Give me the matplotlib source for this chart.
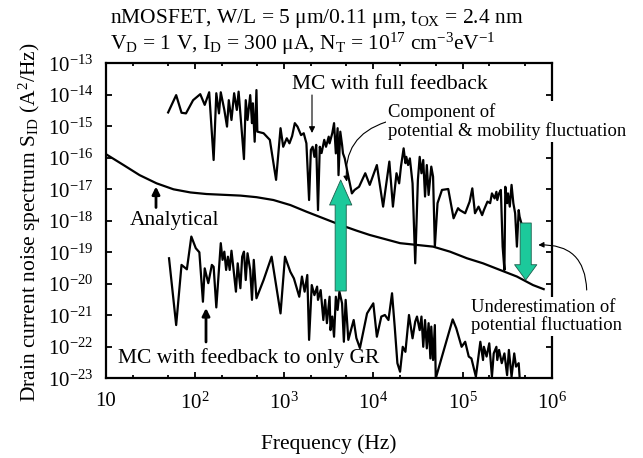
import numpy as np
import matplotlib
matplotlib.use("Agg")
import matplotlib.pyplot as plt
from matplotlib.ticker import FixedLocator, FixedFormatter, NullFormatter

plt.rcParams['font.family'] = ['Liberation Serif', 'DejaVu Serif']
plt.rcParams['mathtext.fontset'] = 'custom'
plt.rcParams['mathtext.rm'] = 'Liberation Serif'
plt.rcParams['mathtext.it'] = 'Liberation Serif:italic'
plt.rcParams['mathtext.bf'] = 'Liberation Serif:bold'

# ---- data (log10 of frequency in Hz, log10 of S_ID in A^2/Hz) ----
full_logf = [1.70, 1.79, 1.85, 1.90, 1.98, 2.06, 2.11, 2.16, 2.21, 2.24, 2.27, 2.29, 2.33, 2.36,
             2.38, 2.41, 2.44, 2.47, 2.49, 2.52, 2.55, 2.57, 2.59, 2.62, 2.64, 2.65, 2.67, 2.69,
             2.70, 2.77, 2.84, 2.91, 2.96, 2.99, 3.03, 3.06, 3.09, 3.12, 3.15, 3.19, 3.22, 3.25,
             3.28, 3.30, 3.32, 3.34, 3.36, 3.38, 3.40, 3.42, 3.45, 3.47, 3.50, 3.51, 3.54, 3.56,
             3.58, 3.60, 3.61, 3.63, 3.65, 3.66, 3.68, 3.71, 3.76, 3.79, 3.84, 3.91, 3.96, 4.04,
             4.11, 4.18, 4.22, 4.26, 4.29, 4.31, 4.34, 4.36, 4.37, 4.39, 4.41, 4.44, 4.47, 4.50,
             4.52, 4.54, 4.56, 4.58, 4.60, 4.62, 4.65, 4.67, 4.69, 4.72, 4.77, 4.84, 4.90, 4.95,
             4.97, 5.03, 5.08, 5.11, 5.14, 5.18, 5.22, 5.24, 5.28, 5.31, 5.33, 5.36, 5.38, 5.39,
             5.41, 5.43, 5.45, 5.47, 5.48, 5.50, 5.51, 5.53, 5.55, 5.57, 5.59, 5.61, 5.63, 5.64,
             5.66]
full_logs = [-14.56, -14.01, -14.57, -14.59, -14.17, -13.98, -14.32, -13.92, -16.07, -13.95,
             -14.59, -13.92, -14.48, -15.01, -14.17, -14.80, -13.95, -14.48, -13.90, -14.96,
             -16.04, -14.17, -14.80, -14.01, -14.90, -14.27, -15.49, -13.85, -15.17, -15.22,
             -15.43, -16.70, -15.06, -15.65, -15.38, -15.54, -15.31, -14.90, -15.01, -15.28,
             -15.22, -15.54, -17.34, -15.75, -15.65, -15.97, -15.59, -17.66, -15.65, -15.85,
             -15.43, -15.65, -15.33, -15.54, -15.22, -14.90, -15.86, -15.06, -16.55, -15.17,
             -15.59, -15.86, -16.02, -16.45, -17.13, -17.02, -16.92, -16.49, -16.86, -16.23,
             -17.55, -16.12, -17.55, -16.49, -16.81, -16.28, -15.70, -16.17, -15.97, -16.23,
             -16.02, -16.81, -19.35, -16.70, -15.97, -16.49, -16.07, -17.23, -16.23, -17.18,
             -16.28, -16.60, -18.82, -17.44, -17.02, -16.99, -17.92, -17.60, -17.66, -17.76,
             -17.39, -16.97, -17.76, -17.55, -17.82, -17.66, -17.39, -17.44, -17.13, -17.29,
             -17.08, -17.34, -17.13, -17.02, -18.82, -19.56, -16.92, -17.44, -17.13, -17.55,
             -16.86, -17.44, -17.76, -18.82, -17.66, -17.87, -18.08]

gr_logf = [1.71, 1.79, 1.85, 1.91, 1.96, 2.01, 2.05, 2.09, 2.11, 2.15, 2.19, 2.21, 2.24, 2.29,
           2.31, 2.33, 2.35, 2.37, 2.39, 2.41, 2.43, 2.46, 2.48, 2.51, 2.53, 2.55, 2.57, 2.59,
           2.62, 2.64, 2.66, 2.69, 2.77, 2.86, 2.96, 3.01, 3.07, 3.11, 3.17, 3.20, 3.23, 3.26,
           3.28, 3.31, 3.34, 3.37, 3.38, 3.41, 3.44, 3.46, 3.48, 3.51, 3.52, 3.54, 3.56, 3.58,
           3.60, 3.62, 3.65, 3.67, 3.69, 3.72, 3.78, 3.81, 3.85, 3.93, 4.00, 4.04, 4.09, 4.13,
           4.17, 4.21, 4.24, 4.27, 4.30, 4.33, 4.36, 4.40, 4.44, 4.47, 4.49, 4.52, 4.54, 4.56,
           4.58, 4.60, 4.62, 4.64, 4.65, 4.67, 4.69, 4.70, 4.78, 4.89, 4.93, 4.99, 5.03, 5.07,
           5.10, 5.15, 5.20, 5.23, 5.24, 5.27, 5.30, 5.33, 5.35, 5.38, 5.39, 5.41, 5.44, 5.47,
           5.50, 5.52, 5.55, 5.58, 5.60, 5.63, 5.64]
gr_logs = [-19.19, -21.31, -19.40, -19.54, -18.50, -18.87, -19.00, -20.57, -19.51, -19.98,
           -19.40, -19.46, -20.75, -18.71, -19.24, -18.98, -19.56, -19.14, -19.56, -18.95,
           -19.46, -20.25, -19.35, -20.14, -19.14, -18.98, -19.88, -19.03, -19.56, -20.51,
           -19.24, -20.46, -19.88, -19.14, -20.94, -19.14, -19.62, -19.83, -20.41, -19.77,
           -20.25, -19.72, -21.78, -20.04, -20.36, -20.09, -20.51, -20.20, -21.15, -20.51,
           -21.25, -20.41, -21.47, -21.04, -21.68, -20.41, -20.83, -20.25, -20.62, -21.84,
           -20.51, -21.78, -21.15, -21.72, -22.04, -20.94, -20.62, -21.68, -21.04, -20.99,
           -21.15, -20.30, -21.36, -22.52, -22.79, -22.00, -22.16, -20.99, -21.73, -21.20,
           -21.04, -21.47, -21.04, -22.00, -21.15, -22.05, -21.25, -22.37, -21.36, -22.42,
           -21.31, -23.00, -22.21, -21.13, -21.41, -22.00, -21.84, -22.31, -22.37, -22.95,
           -21.84, -22.42, -22.00, -22.31, -21.89, -22.95, -22.21, -22.00, -22.42, -22.10,
           -22.52, -22.21, -22.90, -22.10, -22.95, -22.21, -22.63, -22.52, -22.95]

ana_logf = [1.00, 1.20, 1.38, 1.57, 1.76, 1.95, 2.13, 2.51, 2.69, 2.88, 3.07, 3.25, 3.44,
            3.63, 3.81, 3.96, 4.30, 4.67, 4.86, 5.05, 5.23, 5.42, 5.61, 5.79, 5.91]
ana_logs = [-15.88, -16.23, -16.55, -16.81, -17.00, -17.10, -17.15, -17.20, -17.25, -17.34,
            -17.50, -17.71, -17.92, -18.13, -18.31, -18.45, -18.71, -18.82, -18.98, -19.19,
            -19.35, -19.56, -19.77, -20.04, -20.17]

x_tick_exp = [1, 2, 3, 4, 5, 6]
x_tick_labels = ['10', '10$^2$', '10$^3$', '10$^4$', '10$^5$', '10$^6$']
y_tick_exp = list(range(-23, -12))
y_tick_labels = ['10$^{%d}$' % e for e in y_tick_exp]

W, H = 643, 458
fig = plt.figure(figsize=(W / 100, H / 100), dpi=100)
ax = fig.add_axes([105.7 / W, 1 - 378.3 / H, (551.7 - 105.7) / W, (378.3 - 63.3) / H])

ax.plot(10 ** np.array(ana_logf), 10 ** np.array(ana_logs), color='black', lw=1.6, zorder=2)
ax.plot(10 ** np.array(full_logf), 10 ** np.array(full_logs), color='black', lw=1.6, zorder=2)
ax.plot(10 ** np.array(gr_logf), 10 ** np.array(gr_logs), color='black', lw=1.6, zorder=2)

ax.set_xscale('log')
ax.set_yscale('log')
ax.set_xlim(10, 1e6)
ax.set_ylim(1e-23, 1e-13)

ax.xaxis.set_major_locator(FixedLocator([10.0 ** e for e in x_tick_exp]))
ax.xaxis.set_major_formatter(FixedFormatter(x_tick_labels))
minor_x = [m * 10.0 ** e for e in range(1, 6) for m in (2, 5)]
ax.xaxis.set_minor_locator(FixedLocator(minor_x))
ax.xaxis.set_minor_formatter(NullFormatter())
ax.yaxis.set_major_locator(FixedLocator([10.0 ** e for e in y_tick_exp]))
ax.yaxis.set_major_formatter(FixedFormatter(y_tick_labels))
ax.yaxis.set_minor_locator(FixedLocator([]))

ax.tick_params(which='both', direction='in', top=True, right=True, width=1.3)
ax.tick_params(which='major', length=4)
ax.tick_params(which='minor', length=2.5)
ax.tick_params(axis='x', which='major', labelsize=15, pad=10)
ax.tick_params(axis='y', which='major', labelsize=15, pad=9)
for s in ax.spines.values():
    s.set_linewidth(1.6)


def P(x, y):
    return (x, H - y)


FS = 15.5
SFS = 13.4
fig.text(110 / W, 1 - 19 / H, 'nMOSFET, W/L = 5 \u03bcm/0.11 \u03bcm, t$_\\mathrm{OX}$ = 2.4 nm',
         fontsize=FS, ha='left', va='center')
fig.text(110 / W, 1 - 44 / H,
         'V$_\\mathrm{D}$ = 1 V, I$_\\mathrm{D}$ = 300 \u03bcA, N$_\\mathrm{T}$ = 10$^{17}$ cm$^{-3}$eV$^{-1}$',
         fontsize=FS, ha='left', va='center')
fig.text(30 / W, 1 - 222 / H, 'Drain current noise spectrum S$_\\mathrm{ID}$ (A$^2$/Hz)',
         fontsize=FS, rotation=90, ha='center', va='center')
fig.text(328.7 / W, 1 - 444 / H, 'Frequency (Hz)', fontsize=FS, ha='center', va='center')

fig.text(291.7 / W, 1 - 85 / H, 'MC with full feedback', fontsize=FS, ha='left', va='center')
fig.text(130 / W, 1 - 220 / H, 'Analytical', fontsize=FS, ha='left', va='center')
fig.text(118.3 / W, 1 - 358.3 / H, 'MC with feedback to only GR', fontsize=FS, ha='left', va='center')

bb = dict(facecolor='white', edgecolor='none', pad=1.5)
fig.text(388.3 / W, 1 - 121.5 / H, 'Component of\npotential & mobility fluctuation',
         fontsize=SFS, ha='left', va='center', linespacing=1.05, bbox=bb, zorder=5)
fig.text(471 / W, 1 - 316.5 / H, 'Underestimation of\npotential fluctuation',
         fontsize=SFS, ha='left', va='center', linespacing=1.05, bbox=bb, zorder=5)

# small arrows
ax.annotate('', xy=P(312, 133), xytext=P(312, 95), xycoords='figure pixels', textcoords='figure pixels',
            arrowprops=dict(arrowstyle='-|>', lw=0.8, color='black', mutation_scale=9,
                            shrinkA=0, shrinkB=0))
ax.annotate('', xy=P(156, 186.5), xytext=P(156, 207.5), xycoords='figure pixels', textcoords='figure pixels',
            arrowprops=dict(arrowstyle='-|>', lw=2.0, color='black', mutation_scale=11,
                            shrinkA=0, shrinkB=0))
ax.annotate('', xy=P(206, 308), xytext=P(206, 342), xycoords='figure pixels', textcoords='figure pixels',
            arrowprops=dict(arrowstyle='-|>', lw=2.0, color='black', mutation_scale=11,
                            shrinkA=0, shrinkB=0))
ax.annotate('', xy=P(346.7, 181.7), xytext=P(386, 122), xycoords='figure pixels', textcoords='figure pixels',
            arrowprops=dict(arrowstyle='-|>', lw=0.8, color='black', mutation_scale=8,
                            shrinkA=0, shrinkB=0, connectionstyle='arc3,rad=0.4'))
ax.annotate('', xy=P(538.3, 245), xytext=P(586.7, 290), xycoords='figure pixels', textcoords='figure pixels',
            arrowprops=dict(arrowstyle='-|>', lw=0.8, color='black', mutation_scale=8,
                            shrinkA=0, shrinkB=0, connectionstyle='arc3,rad=0.5'))

# green arrows
green = '#1cc99b'
ax.annotate('', xy=P(340.7, 180), xytext=P(340.7, 291), xycoords='figure pixels', textcoords='figure pixels',
            arrowprops=dict(arrowstyle='simple,head_length=1.8,head_width=1.6,tail_width=0.8',
                            mutation_scale=10, fc=green, ec='#1d5e4c', lw=0.6,
                            shrinkA=0, shrinkB=0))
ax.annotate('', xy=P(525.7, 280), xytext=P(525.7, 223), xycoords='figure pixels', textcoords='figure pixels',
            arrowprops=dict(arrowstyle='simple,head_length=1.1,head_width=1.6,tail_width=0.8',
                            mutation_scale=10, fc=green, ec='#1d5e4c', lw=0.6,
                            shrinkA=0, shrinkB=0))

fig.savefig('out.png', dpi=100)
